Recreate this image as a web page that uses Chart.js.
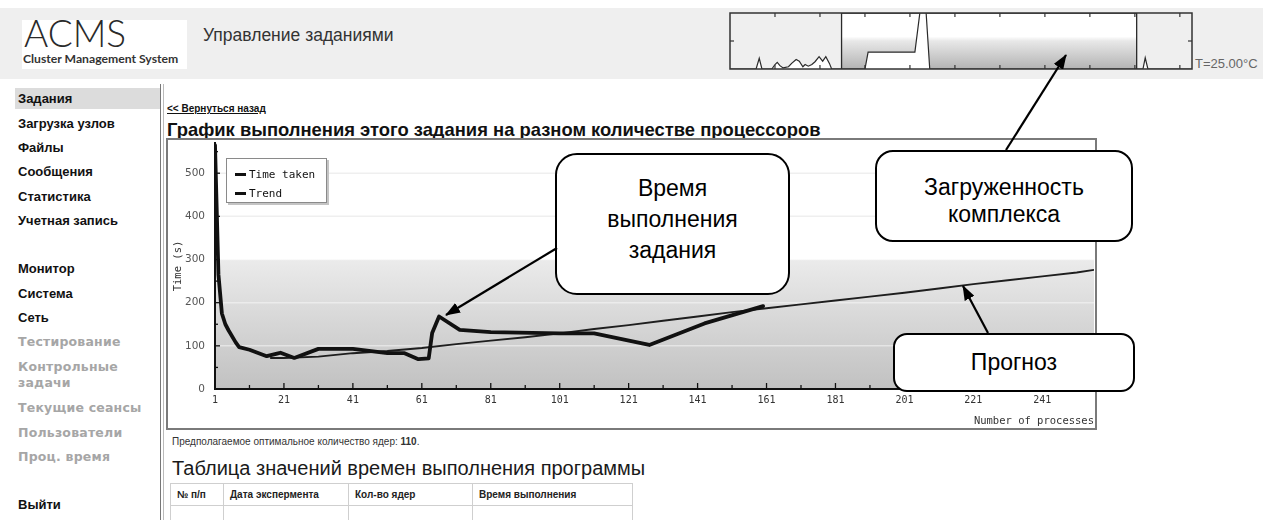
<!DOCTYPE html>
<html lang="ru">
<head>
<meta charset="utf-8">
<title>ACMS — Управление заданиями</title>
<script src="https://cdn.jsdelivr.net/npm/chart.js@4.4.1/dist/chart.umd.min.js"></script>
<style>
html,body{margin:0;padding:0;background:#fff}
body{position:relative;width:1263px;height:520px;overflow:hidden;font-family:"Liberation Sans",Arial,sans-serif;color:#111}
.a{position:absolute;white-space:nowrap}
#hdr{left:0;top:8px;width:1263px;height:71px;background:#efefef}
#logo{left:22px;top:20px;width:165px;height:49px;background:#fff}
#acms{left:24px;top:13px;font:300 37px/40px Lato,"Liberation Sans",sans-serif;color:#2a2a2a}
#cms{left:23px;top:52px;font:700 12.2px/14px Lato,"Liberation Sans",sans-serif;color:#333}
#sect{left:203px;top:25px;font:17.5px/20px "Liberation Sans",Arial,sans-serif;color:#333}
#loadCanvas{position:absolute;left:729px;top:12px;width:465px;height:59px}
#temp{left:1195px;top:56px;font:13px/15px "Liberation Sans",Arial,sans-serif;color:#666}
#sep1{left:160px;top:84px;width:1px;height:436px;background:#777}
#sep2{left:163px;top:84px;width:1px;height:436px;background:#bbb}
#hl{left:15px;top:88px;width:145px;height:21px;background:#dcdcdc}
.m{position:absolute;left:18px;white-space:nowrap;font:bold 13px/16px "Liberation Sans",Arial,sans-serif;color:#111}
.g{position:absolute;left:18px;white-space:nowrap;font:bold 12.5px/16px "DejaVu Sans",Verdana,sans-serif;color:#a6a6a6;letter-spacing:0.2px}
#back{left:167px;top:103px;font:bold 10px/12px "Liberation Sans",Arial,sans-serif;color:#111;text-decoration:underline}
#title{left:167px;top:119px;font:bold 18.4px/22px "Liberation Sans",Arial,sans-serif;color:#111}
#frame{left:166px;top:138px;width:927px;height:288px;border:2px solid #7a7a7a;background:#fff}
#mainCanvas{position:absolute;left:168px;top:140px;width:927px;height:288px}
#legend{left:226px;top:158px;width:101px;height:45px;background:#fff;border:1px solid #8a8a8a;box-shadow:2px 2px 0 #c4c4c4;box-sizing:border-box;padding-top:6px}
.lg-row{display:flex;align-items:center;height:19px;padding-left:8px;font:11px/19px "DejaVu Sans Mono",monospace;color:#111}
.lg-sw{display:inline-block;width:11px;height:2.5px;background:#111;margin-right:3px}
#opt{left:172px;top:436px;font:10px/12px "Liberation Sans",Arial,sans-serif;color:#333}
#tblTitle{left:172px;top:456px;font:20px/24px "Liberation Sans",Arial,sans-serif;color:#1a1a1a}
#tbl{position:absolute;left:170px;top:483px;border-collapse:collapse;font:bold 10px/12px "Liberation Sans",Arial,sans-serif;color:#222}
#tbl td{border:1px solid #cfcfcf;height:21px;padding:0 0 0 6px;text-align:left}
.co{position:absolute;box-sizing:border-box;border:2px solid #000;background:#fff;display:flex;flex-direction:column;align-items:center;justify-content:center;font:23px/31px "Liberation Sans",Arial,sans-serif;color:#000;text-align:center}
#c1{left:555px;top:153px;width:235px;height:142px;border-radius:22px;padding-bottom:9px}
#c2{left:875px;top:150px;width:258px;height:92px;border-radius:18px;line-height:27px;padding-top:10px}
#c3{left:893px;top:333px;width:242px;height:59px;border-radius:14px}
#arrows{position:absolute;left:0;top:0;width:1263px;height:520px;pointer-events:none}
</style>
</head>
<body>
<div class="a" id="hdr"></div>
<div class="a" id="logo"></div>
<div class="a" id="acms">ACMS</div>
<div class="a" id="cms">Cluster Management System</div>
<div class="a" id="sect">Управление заданиями</div>
<canvas id="loadCanvas" width="465" height="59"></canvas>
<div class="a" id="temp">T=25.00°C</div>

<div class="a" id="sep1"></div>
<div class="a" id="sep2"></div>
<div class="a" id="hl"></div>
<div class="m" style="top:91px">Задания</div>
<div class="m" style="top:116px">Загрузка узлов</div>
<div class="m" style="top:140px">Файлы</div>
<div class="m" style="top:164px">Сообщения</div>
<div class="m" style="top:189px">Статистика</div>
<div class="m" style="top:213px">Учетная запись</div>
<div class="m" style="top:261px">Монитор</div>
<div class="m" style="top:286px">Система</div>
<div class="m" style="top:310px">Сеть</div>
<div class="g" style="top:334px">Тестирование</div>
<div class="g" style="top:359px">Контрольные</div>
<div class="g" style="top:375px">задачи</div>
<div class="g" style="top:400px">Текущие сеансы</div>
<div class="g" style="top:425px">Пользователи</div>
<div class="g" style="top:449px">Проц. время</div>
<div class="m" style="top:497px">Выйти</div>

<div class="a" id="back">&lt;&lt; Вернуться назад</div>
<div class="a" id="title">График выполнения этого задания на разном количестве процессоров</div>
<div class="a" id="frame"></div>
<canvas id="mainCanvas" width="927" height="288"></canvas>
<div class="a" id="legend"></div>

<div class="a" id="opt">Предполагаемое оптимальное количество ядер: <b>110</b>.</div>
<div class="a" id="tblTitle">Таблица значений времен выполнения программы</div>
<table id="tbl">
<tr><td style="width:46px">№ п/п</td><td style="width:118px">Дата экспермента</td><td style="width:117px">Кол-во ядер</td><td style="width:153px">Время выполнения</td></tr>
<tr><td></td><td></td><td></td><td></td></tr>
</table>

<div class="co" id="c1"><div>Время</div><div>выполнения</div><div>задания</div></div>
<div class="co" id="c2"><div>Загруженность</div><div>комплекса</div></div>
<div class="co" id="c3"><div>Прогноз</div></div>

<svg id="arrows" viewBox="0 0 1263 520">
<defs>
<marker id="ah" markerWidth="15" markerHeight="11" refX="14" refY="5.5" orient="auto" markerUnits="userSpaceOnUse">
<path d="M0,0 L15,5.5 L0,11 z" fill="#000"/>
</marker>
</defs>
<line x1="557" y1="248" x2="446" y2="315" stroke="#000" stroke-width="2.2" marker-end="url(#ah)"/>
<line x1="1006" y1="150" x2="1066" y2="55" stroke="#000" stroke-width="2.2" marker-end="url(#ah)"/>
<line x1="988" y1="333" x2="963" y2="286" stroke="#000" stroke-width="2.2" marker-end="url(#ah)"/>
</svg>

<script>
// ---------- main chart data ----------
const timeProcs   = [1, 2, 3, 4, 5, 7, 8, 11, 16, 19, 20, 24, 31, 41, 51, 56, 60, 63, 64, 66, 72, 81, 101, 111, 127, 143, 160];
const timeSeconds = [565, 265, 175, 150, 135, 108, 97, 91, 76, 82, 84, 72, 93, 93, 83, 83, 69, 71, 130, 168, 137, 132, 129, 129, 102, 152, 192];

const trendProcs   = [17, 21, 31, 41, 51, 61, 71, 81, 91, 101, 111, 121, 131, 141, 151, 161, 171, 181, 191, 201, 211, 221, 231, 241, 251, 256];
const trendSeconds = [72, 72, 75, 83, 88, 95, 104, 112, 120, 129, 139, 148, 158, 168, 178, 187, 196, 205, 214, 223, 233, 243, 252, 261, 270, 276];

const xTicks       = [1, 11, 21, 31, 41, 51, 61, 71, 81, 91, 101, 111, 121, 131, 141, 151, 161, 171, 181, 191, 201, 211, 221, 231, 241, 251];
const xTickLabels  = [1, 21, 41, 61, 81, 101, 121, 141, 161, 181, 201, 221, 241];
const yTicks       = [0, 50, 100, 150, 200, 250, 300, 350, 400, 450, 500, 550];
const yTickLabels  = [0, 100, 200, 300, 400, 500];

// ---------- cluster load chart data ----------
const loadHours   = [0, 0.58, 0.65, 0.71, 0.93, 1.0, 1.05, 1.11, 1.18, 1.30, 1.37, 1.47, 1.54, 1.62, 1.67, 1.74, 1.82, 1.89, 1.98, 2.06, 2.13, 2.21, 2.26, 3.0, 3.07, 4.11, 4.22, 4.36, 4.44, 9.18, 9.23, 9.29, 10.27];
const loadPercent = [0, 0, 19, 0, 0, 8, 12, 6, 2, 4, 10, 17, 14, 4, 8, 5, 8, 13, 22, 14, 22, 10, 0, 0, 30, 30, 100, 100, 0, 0, 20, 0, 0];
const busyHours   = [2.48, 2.48, 9.04, 9.04];
const busyPercent = [0, 100, 100, 0];
const loadHourTicks = [1, 2, 3, 4, 5, 6, 7, 8, 9, 10];
const loadPctTicks  = [50];

const toXY = (xs, ys) => xs.map((x, i) => ({x: x, y: ys[i]}));

function line(ctx, x1, y1, x2, y2) { ctx.beginPath(); ctx.moveTo(x1, y1); ctx.lineTo(x2, y2); ctx.stroke(); }

const plotBg = {
  id: 'plotBg',
  beforeDraw(chart) {
    const {ctx, chartArea: a, scales: {y}} = chart;
    ctx.save();
    ctx.fillStyle = '#fff';
    ctx.fillRect(a.left, a.top, a.width, a.height);
    const y300 = y.getPixelForValue(300), y0 = y.getPixelForValue(0);
    const g = ctx.createLinearGradient(0, y300, 0, y0);
    g.addColorStop(0, '#ebebeb');
    g.addColorStop(1, '#c1c1c1');
    ctx.fillStyle = g;
    ctx.fillRect(a.left, y300, a.width, y0 - y300);
    ctx.lineWidth = 1.5;
    yTickLabels.forEach(v => {
      if (v === 0) return;
      const p = y.getPixelForValue(v);
      ctx.strokeStyle = v > 300 ? '#efefef' : 'rgba(255,255,255,0.45)';
      line(ctx, a.left, p, a.right, p);
    });
    ctx.restore();
  },
  afterDraw(chart) {
    const {ctx, chartArea: a, scales: {x, y}} = chart;
    ctx.save();
    ctx.strokeStyle = '#111';
    ctx.lineWidth = 1.3;
    xTicks.forEach(v => {
      const p = x.getPixelForValue(v);
      const len = xTickLabels.includes(v) ? 6 : 4;
      line(ctx, p, a.bottom, p, a.bottom - len);
    });
    yTicks.forEach(v => {
      const p = y.getPixelForValue(v);
      const len = yTickLabels.includes(v) ? 5 : 3;
      line(ctx, a.left, p, a.left + len, p);
    });
    ctx.restore();
  }
};

const mainChart = new Chart(document.getElementById('mainCanvas'), {
  type: 'line',
  data: {
    datasets: [
      {label: 'Time taken', data: toXY(timeProcs, timeSeconds), borderColor: '#111', borderWidth: 3.8,
       pointRadius: 0, tension: 0, fill: false, borderJoinStyle: 'round', borderCapStyle: 'round'},
      {label: 'Trend', data: toXY(trendProcs, trendSeconds), borderColor: '#1e1e1e', borderWidth: 1.9,
       pointRadius: 0, tension: 0, fill: false}
    ]
  },
  options: {
    responsive: false,
    animation: false,
    layout: {padding: {top: 3, right: 1, left: 0, bottom: 0}},
    plugins: {legend: {display: false}, tooltip: {enabled: false}},
    scales: {
      x: {
        type: 'linear', min: 1, max: 256,
        afterBuildTicks: s => { s.ticks = xTicks.map(v => ({value: v})); },
        afterFit: s => { s.height = 39; s.paddingLeft = 0; s.paddingRight = 0; },
        ticks: {autoSkip: false, maxRotation: 0, padding: 5, color: '#333',
                font: {family: 'DejaVu Sans Mono', size: 10},
                callback: v => xTickLabels.includes(v) ? String(v) : ''},
        grid: {drawOnChartArea: false, drawTicks: false},
        border: {display: true, color: '#111', width: 2},
        title: {display: true, text: 'Number of processes', align: 'end', color: '#333',
                font: {family: 'DejaVu Sans Mono', size: 10.5}, padding: {top: 2, bottom: 0}}
      },
      y: {
        type: 'linear', min: 0, max: 570,
        afterBuildTicks: s => { s.ticks = yTicks.map(v => ({value: v})); },
        afterFit: s => { s.width = 47; s.paddingTop = 0; s.paddingBottom = 0; },
        ticks: {autoSkip: false, padding: 10, color: '#555',
                font: {family: 'DejaVu Sans', size: 10.5},
                callback: v => yTickLabels.includes(v) ? String(v) : ''},
        grid: {drawOnChartArea: false, drawTicks: false},
        border: {display: true, color: '#111', width: 2},
        title: {display: true, text: 'Time (s)', color: '#333',
                font: {family: 'DejaVu Sans Mono', size: 10.5}, padding: {top: 4, bottom: 0}}
      }
    }
  },
  plugins: [plotBg]
});

// HTML legend built from the chart datasets
const legendEl = document.getElementById('legend');
mainChart.data.datasets.forEach(ds => {
  const row = document.createElement('div');
  row.className = 'lg-row';
  const sw = document.createElement('span');
  sw.className = 'lg-sw';
  const tx = document.createElement('span');
  tx.textContent = ds.label;
  row.appendChild(sw); row.appendChild(tx);
  legendEl.appendChild(row);
});

// ---------- small load chart ----------
const loadFrame = {
  id: 'loadFrame',
  afterDatasetsDraw(chart) {
    const {ctx, chartArea: a, scales: {x, y}} = chart;
    ctx.save();
    ctx.strokeStyle = '#333';
    ctx.lineWidth = 1.5;
    ctx.strokeRect(a.left, a.top, a.width, a.height);
    ctx.lineWidth = 1.2;
    loadHourTicks.forEach(v => {
      const p = x.getPixelForValue(v);
      line(ctx, p, a.top, p, a.top + 4);
      line(ctx, p, a.bottom, p, a.bottom - 4);
    });
    loadPctTicks.forEach(v => {
      const p = y.getPixelForValue(v);
      line(ctx, a.left, p, a.left + 4, p);
      line(ctx, a.right, p, a.right - 4, p);
    });
    ctx.restore();
  }
};

new Chart(document.getElementById('loadCanvas'), {
  type: 'line',
  data: {
    datasets: [
      {label: 'load', data: toXY(loadHours, loadPercent), borderColor: '#2a2a2a', borderWidth: 1.2,
       backgroundColor: '#fff', fill: 'origin', pointRadius: 0, tension: 0},
      {label: 'busy', data: toXY(busyHours, busyPercent), borderColor: '#2a2a2a', borderWidth: 1.3,
       fill: 'origin', pointRadius: 0, tension: 0,
       backgroundColor: ctx => {
         const a = ctx.chart.chartArea;
         if (!a) return '#ddd';
         const g = ctx.chart.ctx.createLinearGradient(0, a.top, 0, a.bottom);
         g.addColorStop(0, '#ffffff');
         g.addColorStop(0.42, '#ffffff');
         g.addColorStop(0.5, '#e8e8e8');
         g.addColorStop(1, '#b3b3b3');
         return g;
       }}
    ]
  },
  options: {
    responsive: false,
    animation: false,
    layout: {padding: {left: 1, right: 2, top: 1, bottom: 2}},
    plugins: {legend: {display: false}, tooltip: {enabled: false}},
    scales: {
      x: {type: 'linear', min: 0, max: 10.27, display: false},
      y: {type: 'linear', min: 0, max: 100, display: false}
    }
  },
  plugins: [loadFrame]
});
</script>
</body>
</html>
